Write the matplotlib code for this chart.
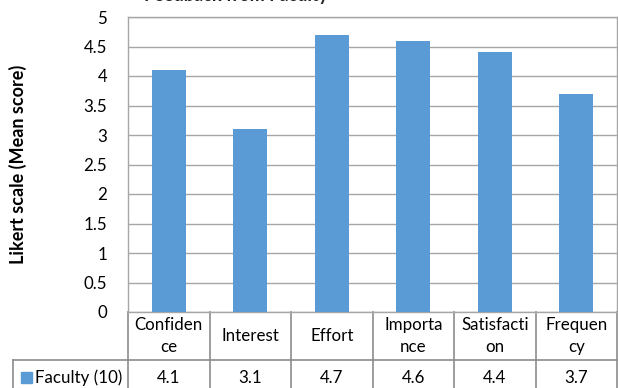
import matplotlib
matplotlib.use("Agg")
import matplotlib.pyplot as plt
from matplotlib.patches import Rectangle
from matplotlib.lines import Line2D

plt.rcParams['font.family'] = ['Lato', 'DejaVu Sans']

categories = ["Confidence", "Interest", "Effort", "Importance", "Satisfaction", "Frequency"]
cat_labels = ["Confiden\nce", "Interest", "Effort", "Importa\nnce", "Satisfacti\non", "Frequen\ncy"]
values = [4.1, 3.1, 4.7, 4.6, 4.4, 3.7]
series_name = "Faculty (10)"
yticks = [0, 0.5, 1, 1.5, 2, 2.5, 3, 3.5, 4, 4.5, 5]
ytick_labels = ["0", "0.5", "1", "1.5", "2", "2.5", "3", "3.5", "4", "4.5", "5"]

W, H = 618, 388
fig = plt.figure(figsize=(W / 100, H / 100), dpi=100)
L, R, T, B = 128, 617, 17, 312
ax = fig.add_axes([L / W, 1 - B / H, (R - L) / W, (B - T) / H])

color = "#5B9BD5"
grid_c = "#A6A6A6"
fs = 12.2
x = list(range(len(categories)))
ax.bar(x, values, width=0.42, color=color, zorder=3)
ax.set_xlim(-0.5, len(categories) - 0.5)
ax.set_ylim(0, 5)
ax.set_yticks(yticks)
ax.set_yticklabels(ytick_labels, fontsize=fs)
ax.set_xticks([])
ax.tick_params(axis='y', length=0, pad=15, labelcolor="#000000")
ax.yaxis.grid(True, color=grid_c, linewidth=1, zorder=0)
for s in ax.spines.values():
    s.set_color(grid_c)
    s.set_linewidth(1)
ax.set_ylabel("Likert scale (Mean score)", fontsize=13, fontweight='bold')
ax.yaxis.set_label_coords((27 - L) / (R - L), 0.5)

# data table
def ay(py):
    return (B - py) / (B - T)

def axx(px):
    return (px - L) / (R - L)

row1 = 360
row_bottom = 389
tr = ax.transAxes
lc = "#8C8C8C"
for i in range(len(categories) + 1):
    xb = i / len(categories)
    ax.add_line(Line2D([xb, xb], [0, ay(row_bottom)], transform=tr, color=lc, lw=1.2, clip_on=False))
ax.add_line(Line2D([axx(13), axx(13)], [ay(row1), ay(row_bottom)], transform=tr, color=lc, lw=1.2, clip_on=False))
ax.add_line(Line2D([axx(13), 1], [ay(row1), ay(row1)], transform=tr, color=lc, lw=1.2, clip_on=False))

for i, (lab, v) in enumerate(zip(cat_labels, values)):
    xc = (i + 0.5) / len(categories)
    ax.text(xc, ay(336), lab, transform=tr, ha='center', va='center',
            fontsize=fs, linespacing=1.4)
    ax.text(xc, ay(383), f"{v}", transform=tr, ha='center', va='baseline', fontsize=fs)

# legend key
ax.add_patch(Rectangle((axx(21), ay(383)), axx(32) - axx(21), ay(372) - ay(383), transform=tr,
                       color=color, clip_on=False))
ax.text(axx(35), ay(383), series_name, transform=tr, ha='left', va='baseline', fontsize=fs)

# title (cut off at the top edge, as in the original)
fig.text(144 / W, 1 - 1 / H, "Feedback from Faculty", ha='left', va='baseline',
         fontsize=13, fontweight='bold', color="#222222")

fig.savefig("out.png", dpi=100)
